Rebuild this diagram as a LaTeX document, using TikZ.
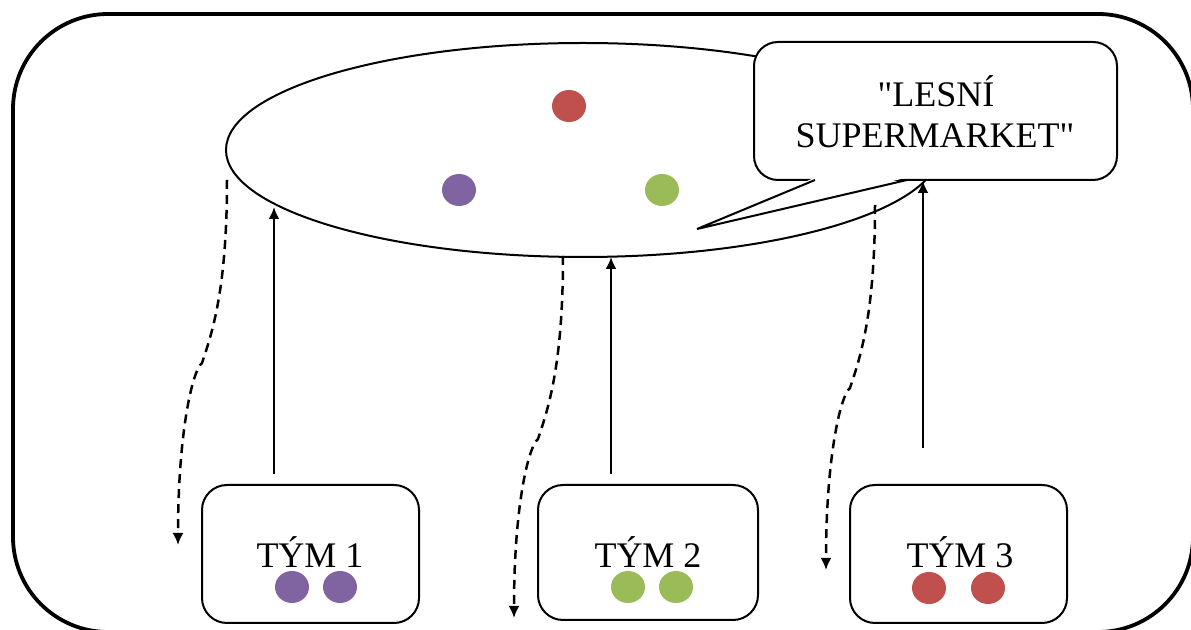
\documentclass[tikz,border=0pt]{standalone}
\usepackage{fontspec}
\setmainfont{Liberation Serif}[Ligatures=TeXOff]
\usetikzlibrary{shapes.geometric,arrows.meta,calc}
\definecolor{teamPurple}{HTML}{8064A2}
\definecolor{teamGreen}{HTML}{9BBB59}
\definecolor{teamRed}{HTML}{C0504D}
\begin{document}
\begin{tikzpicture}[x=0.5pt,y=-0.5pt,
  outerframe/.style={line width=1.9pt, rounded corners=47.5pt},
  teambox/.style={draw, line width=1pt, rounded corners=12.5pt, minimum width=108.5pt,
                  minimum height=69pt, inner sep=0pt},
  txt/.style={font=\fontsize{18}{20.5}\selectfont, anchor=base, inner sep=0pt},
  token/.style={ellipse, minimum width=17pt, minimum height=16pt, inner sep=0pt, draw=none},
  feed/.style={line width=1.25pt, -{Latex[length=6pt,width=5.5pt]}},
  ret/.style={line width=1.25pt, dash pattern=on 4.5pt off 3pt, -{Latex[length=6pt,width=5.5pt]}},
]
\useasboundingbox (0,0) rectangle (1191,630);
\clip (0,0) rectangle (1191,630);

% outer frame (runs past the lower and right edges)
\draw[outerframe] (13,14) rectangle (1193,632);

% common pool
\node[draw, ellipse, line width=1pt, minimum width=357pt, minimum height=107pt,
      inner sep=0pt] (pool) at (583,150) {};
\node[token, fill=teamRed]    (pR) at (569,106) {};
\node[token, fill=teamPurple] (pP) at (459,190) {};
\node[token, fill=teamGreen]  (pG) at (662,190) {};

% speech bubble
\node[draw, fill=white, line width=1pt, rounded corners=12pt, minimum width=181.5pt,
      minimum height=69pt, inner sep=0pt] (callout) at (935.5,111) {};
\fill[white] (815,177.5) -- (697,229) -- (907,177.5) -- cycle;
\draw[line width=1pt, line join=miter] (815,180) -- (697,229) -- (907,180);
\node[txt] (cl1) at (936,107) {"LESNÍ};
\node[txt] (cl2) at (935,148) {SUPERMARKET"};

% teams
\node[teambox] (team1) at (310.5,554) {};
\node[teambox, minimum width=110pt, minimum height=67.5pt] (team2) at (648,552.5) {};
\node[teambox] (team3) at (958.5,554) {};
\node[txt] (t1) at (310,568) {TÝM 1};
\node[txt] (t2) at (648,568) {TÝM 2};
\node[txt] (t3) at (960,568) {TÝM 3};
\node[token, fill=teamPurple] (t1a) at (292,587) {};
\node[token, fill=teamPurple] (t1b) at (340,587) {};
\node[token, fill=teamGreen]  (t2a) at (628,587) {};
\node[token, fill=teamGreen]  (t2b) at (676,587) {};
\node[token, fill=teamRed]    (t3a) at (929,588) {};
\node[token, fill=teamRed]    (t3b) at (988,588) {};

% contributions into the pool
\coordinate (f1e) at (274,207);
\coordinate (f2e) at (611,257);
\coordinate (f3x) at (923,0);
\draw[feed, shorten <=5pt] (team1.north -| f1e) -- (f1e);
\draw[feed, shorten <=5pt] (team2.north -| f2e) -- (f2e);
\draw[feed, shorten <=18pt] (team3.north -| f3x) -- (callout.south -| f3x);

% returns out of the pool
\coordinate (r1s) at (227,180);
\coordinate (r2s) at (563,256);
\coordinate (r3s) at (875,205);
\coordinate (r1e) at (178,545);
\coordinate (r2e) at (514,618);
\coordinate (r3e) at (826,570);
\foreach \s/\e in {r1s/r1e, r2s/r2e, r3s/r3e}{
  \draw[ret] (\s) .. controls +(0,110) and +(10,-30) .. ($(\s)+(-25,183)$)
                  .. controls +(-10,8) and +(0,-110) .. (\e);
}
\end{tikzpicture}
\end{document}
